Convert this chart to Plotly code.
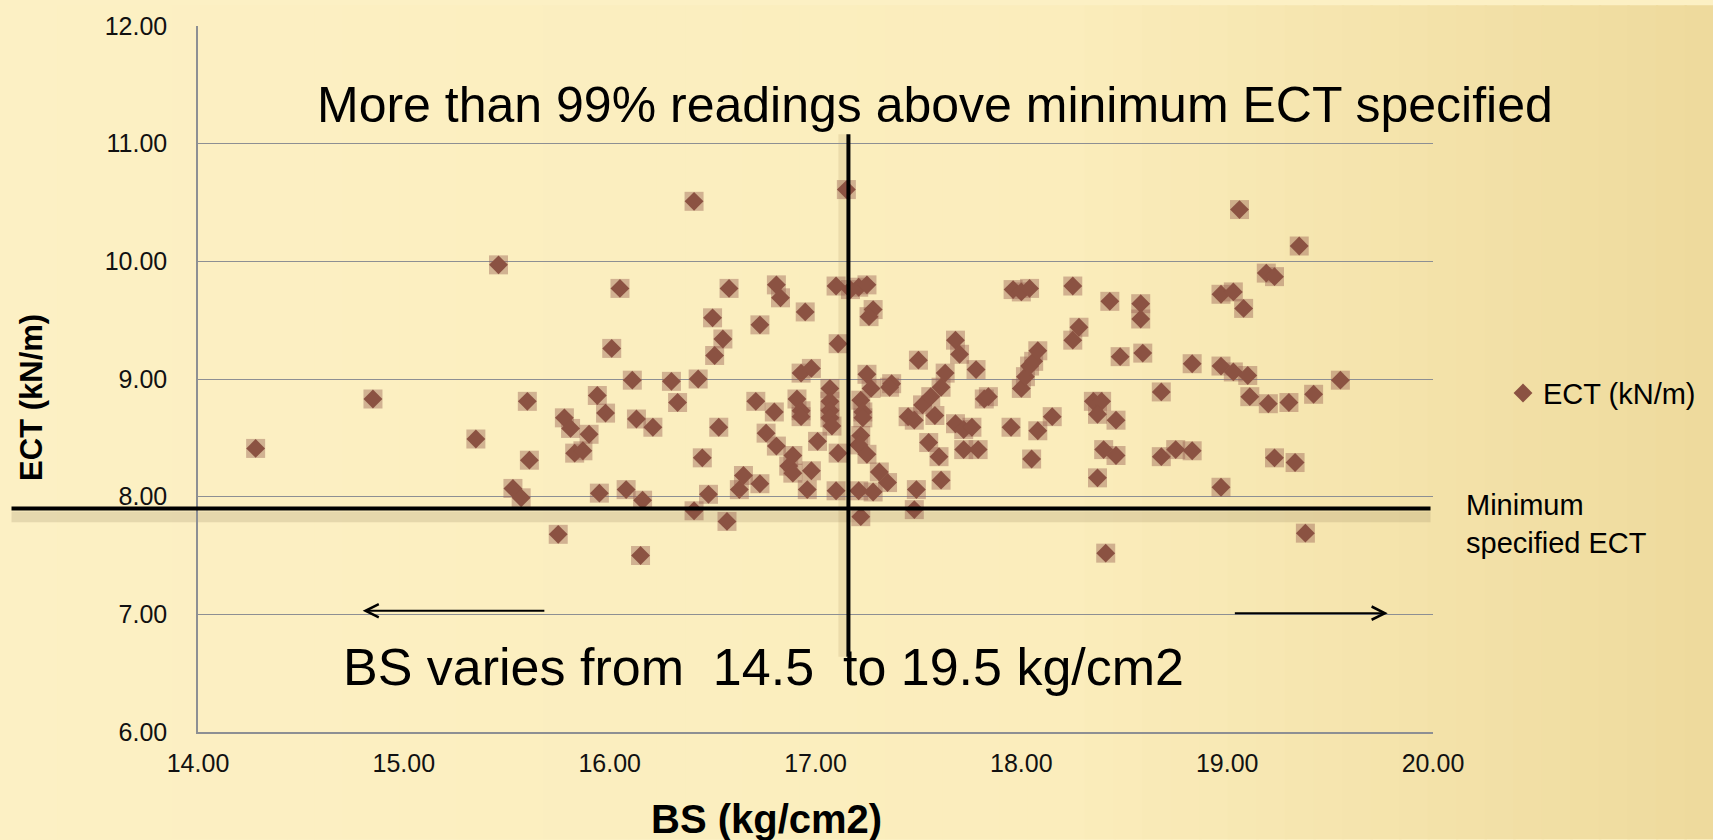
import plotly.graph_objects as go

# ---------------- data ----------------
BS = [14.28, 14.85, 15.35, 15.46, 15.53, 15.57, 15.60, 15.61, 15.75, 15.78,
      15.81, 15.83, 15.87, 15.90, 15.94, 15.98, 15.95, 16.01, 16.05, 16.08,
      16.11, 16.13, 16.16, 16.15, 16.21, 16.30, 16.33, 16.41, 16.41, 16.43,
      16.45, 16.48, 16.50, 16.51, 16.55, 16.53, 16.57, 16.58, 16.63, 16.65,
      16.71, 16.73, 16.73, 16.76, 16.80, 16.81, 16.83, 16.81, 16.89, 16.87,
      16.89, 16.91, 16.93, 16.93, 16.93, 16.95, 16.98, 16.98, 16.96, 17.01,
      17.07, 17.07, 17.07, 17.07, 17.08, 17.10, 17.11, 17.11, 17.10, 17.15,
      17.17, 17.21, 17.25, 17.28, 17.26, 17.25, 17.27, 17.22, 17.23, 17.23,
      17.22, 17.21, 17.25, 17.31, 17.35, 17.21, 17.28, 17.22, 17.37, 17.36,
      17.45, 17.48, 17.50, 17.52, 17.56, 17.58, 17.61, 17.63, 17.55, 17.60,
      17.61, 17.49, 17.48, 17.68, 17.70, 17.68, 17.72, 17.72, 17.76, 17.78,
      17.79, 17.82, 17.84, 17.95, 17.96, 18.00, 18.04, 18.00, 18.02, 18.04,
      18.06, 18.08, 18.05, 18.08, 18.15, 18.25, 18.25, 18.28, 18.35, 18.39,
      18.37, 18.37, 18.40, 18.43, 18.46, 18.46, 18.41, 18.48, 18.58, 18.58,
      18.59, 18.68, 18.68, 18.75, 18.83, 18.83, 18.97, 18.97, 18.97, 19.03,
      19.03, 19.06, 19.08, 19.10, 19.11, 19.19, 19.20, 19.23, 19.23, 19.30,
      19.33, 19.35, 19.38, 19.42, 19.55]
ECT = [8.41, 8.83, 8.49, 9.97, 8.07, 7.99, 8.81, 8.31, 7.68, 8.67,
       8.58, 8.37, 8.39, 8.53, 8.86, 8.71, 8.03, 9.26, 9.77, 8.06,
       8.99, 8.66, 7.97, 7.50, 8.59, 8.98, 8.80, 10.51, 7.88, 9.00,
       8.33, 8.02, 9.52, 9.20, 9.34, 8.59, 7.79, 9.77, 8.06, 8.18,
       8.81, 9.46, 8.11, 8.54, 8.72, 9.80, 9.69, 8.43, 8.35, 8.26,
       8.20, 8.83, 9.05, 8.73, 8.68, 9.57, 9.09, 8.22, 8.06, 8.47,
       8.92, 8.81, 8.73, 8.67, 8.60, 9.79, 9.30, 8.37, 8.05, 10.61,
       9.76, 9.78, 9.80, 9.59, 9.53, 9.04, 8.92, 8.82, 8.72, 8.67,
       8.52, 8.44, 8.36, 8.21, 8.12, 8.05, 8.04, 7.83, 8.96, 8.93,
       8.68, 8.65, 9.16, 8.78, 8.85, 8.69, 8.93, 9.05, 8.46, 8.34,
       8.14, 8.06, 7.89, 9.33, 9.21, 8.62, 8.57, 8.40, 8.59, 9.08,
       8.40, 8.83, 8.85, 8.59, 9.76, 9.74, 9.77, 8.92, 9.02, 9.11,
       9.15, 9.24, 8.32, 8.56, 8.68, 9.79, 9.33, 9.44, 8.81, 8.81,
       8.70, 8.16, 8.40, 9.66, 8.65, 8.35, 7.52, 9.19, 9.64, 9.51,
       9.22, 8.89, 8.34, 8.40, 8.39, 9.13, 9.72, 9.11, 8.08, 9.74,
       9.06, 10.44, 9.60, 9.03, 8.85, 9.90, 8.79, 9.87, 8.33, 8.80,
       8.29, 10.13, 7.69, 8.87, 8.99]

X_TICKS = [14, 15, 16, 17, 18, 19, 20]
Y_TICKS = [6, 7, 8, 9, 10, 11, 12]
MIN_ECT = 7.9          # minimum specified ECT (horizontal reference line)
MID_BS = 17.16         # vertical reference line
BS_LOW, BS_HIGH = 14.8, 19.78   # arrow tips
BS_ARROW_TAIL_L, BS_ARROW_TAIL_R = 15.69, 19.03
ARROW_ECT = 7.03

SERIES_NAME = "ECT (kN/m)"
TITLE_TEXT = "More than 99% readings above minimum ECT specified"
RANGE_TEXT = "BS varies from \u00a014.5 \u00a0to 19.5 kg/cm2"
MIN_TEXT = "Minimum<br>specified ECT"
X_TITLE = "BS (kg/cm2)"
Y_TITLE = "ECT (kN/m)"

# ---------------- styling ----------------
FONT = "Liberation Sans, Arial, sans-serif"
MARK = "rgb(139,82,66)"
HALO = "rgba(150,92,80,0.42)"
GRID = "#8d8f93"

W, H = 1713, 840
L, R, T, B = 198, 280, 21, 108

fig = go.Figure()

# halo squares behind the diamonds
fig.add_trace(go.Scatter(
    x=BS, y=ECT, mode="markers", showlegend=False, hoverinfo="skip",
    marker=dict(symbol="square", size=19, color=HALO, line=dict(width=0))))
fig.add_trace(go.Scatter(
    x=BS, y=ECT, mode="markers", name=SERIES_NAME,
    marker=dict(symbol="diamond", size=14.5, color=MARK, line=dict(width=0))))

shapes = []
# background gradient (cream on left to golden tan on right)
n = 60
x_left = -L / (W - L - R)
x_right = (W - L) / (W - L - R)
c0 = (252, 240, 196)
c1 = (251, 237, 188)
c2 = (238, 218, 156)
for i in range(n):
    f = (i + 0.5) / n
    if f < 0.62:
        g = f / 0.62
        c = tuple(c0[k] + (c1[k] - c0[k]) * g for k in range(3))
    else:
        g = (f - 0.62) / 0.38
        c = tuple(c1[k] + (c2[k] - c1[k]) * g for k in range(3))
    xa = x_left + (x_right - x_left) * i / n
    xb = x_left + (x_right - x_left) * (i + 1) / n + 0.002
    shapes.append(dict(type="rect", xref="paper", yref="paper", layer="below",
                       x0=xa, x1=xb, y0=-B / (H - T - B), y1=(H - B) / (H - T - B),
                       line=dict(width=0),
                       fillcolor="rgb(%d,%d,%d)" % tuple(int(round(v)) for v in c)))

ppu_y = (H - T - B) / (Y_TICKS[-1] - Y_TICKS[0])
ppu_x = (W - L - R) / (X_TICKS[-1] - X_TICKS[0])

# soft shadow under the horizontal line
shapes.append(dict(type="rect", xref="paper", yref="y", layer="below",
                   x0=-0.151, x1=0.998, y0=MIN_ECT - 14 / ppu_y, y1=MIN_ECT - 3 / ppu_y,
                   line=dict(width=0), fillcolor="rgba(150,130,95,0.22)"))
# soft shadow left of vertical line
shapes.append(dict(type="rect", xref="x", yref="y", layer="below",
                   x0=MID_BS - 10 / ppu_x, x1=MID_BS, y0=6.64, y1=11.08,
                   line=dict(width=0), fillcolor="rgba(170,140,90,0.18)"))
# reference lines
shapes.append(dict(type="line", xref="paper", yref="y", layer="above",
                   x0=-0.151, x1=0.998, y0=MIN_ECT, y1=MIN_ECT,
                   line=dict(color="black", width=4)))
shapes.append(dict(type="line", xref="x", yref="y", layer="above",
                   x0=MID_BS, x1=MID_BS, y0=6.64, y1=11.08,
                   line=dict(color="black", width=4)))

annotations = [
    dict(text=TITLE_TEXT, xref="paper", yref="paper", x=0.5968, y=0.8885,
         xanchor="center", yanchor="middle", showarrow=False,
         font=dict(family=FONT, size=50, color="black")),
    dict(text=RANGE_TEXT, xref="paper", yref="paper", x=0.4575, y=0.0924,
         xanchor="center", yanchor="middle", showarrow=False,
         font=dict(family=FONT, size=52, color="black")),
    dict(text=MIN_TEXT, xref="paper", yref="paper", x=1.025, y=0.295,
         xanchor="left", yanchor="middle", align="left", showarrow=False,
         font=dict(family=FONT, size=29, color="black")),
    dict(text="<b>" + X_TITLE + "</b>", xref="paper", yref="paper", x=0.4605, y=-0.089,
         xanchor="center", yanchor="top", showarrow=False,
         font=dict(family=FONT, size=40, color="black")),
    dict(text="<b>" + Y_TITLE + "</b>", xref="paper", yref="paper", x=-0.135, y=0.4736,
         xanchor="center", yanchor="middle", textangle=-90, showarrow=False,
         font=dict(family=FONT, size=31, color="black")),
    dict(x=BS_LOW, y=ARROW_ECT, ax=BS_ARROW_TAIL_L, ay=ARROW_ECT, xref="x", yref="y",
         axref="x", ayref="y", showarrow=True, arrowhead=5, arrowsize=1.3,
         arrowwidth=2, arrowcolor="black", text=""),
    dict(x=BS_HIGH, y=ARROW_ECT - 0.02, ax=BS_ARROW_TAIL_R, ay=ARROW_ECT - 0.02, xref="x", yref="y",
         axref="x", ayref="y", showarrow=True, arrowhead=5, arrowsize=1.3,
         arrowwidth=2, arrowcolor="black", text=""),
]

fig.update_layout(
    width=W, height=H, autosize=False,
    margin=dict(l=L, r=R, t=T, b=B, pad=0),
    paper_bgcolor="rgb(252,240,196)", plot_bgcolor="rgba(0,0,0,0)",
    font=dict(family=FONT, color="black"),
    shapes=shapes, annotations=annotations,
    showlegend=True,
    legend=dict(x=1.0567, y=0.48, xanchor="left", yanchor="middle",
                bgcolor="rgba(0,0,0,0)", borderwidth=0,
                font=dict(family=FONT, size=29, color="black")),
    xaxis=dict(range=[X_TICKS[0], X_TICKS[-1]], tickvals=X_TICKS,
               ticktext=["%.2f" % v for v in X_TICKS],
               showgrid=False, zeroline=False, showline=True,
               linecolor=GRID, linewidth=2, ticks="", ticklabelstandoff=8,
               tickfont=dict(family=FONT, size=25, color="#111")),
    yaxis=dict(range=[Y_TICKS[0], Y_TICKS[-1]], tickvals=Y_TICKS,
               ticktext=["%.2f" % v for v in Y_TICKS],
               showgrid=True, gridcolor=GRID, gridwidth=1.3, zeroline=False,
               showline=True, linecolor=GRID, linewidth=1.5, ticks="",
               ticklabelstandoff=24,
               tickfont=dict(family=FONT, size=25, color="#111")),
)

fig.write_html("out.html")
